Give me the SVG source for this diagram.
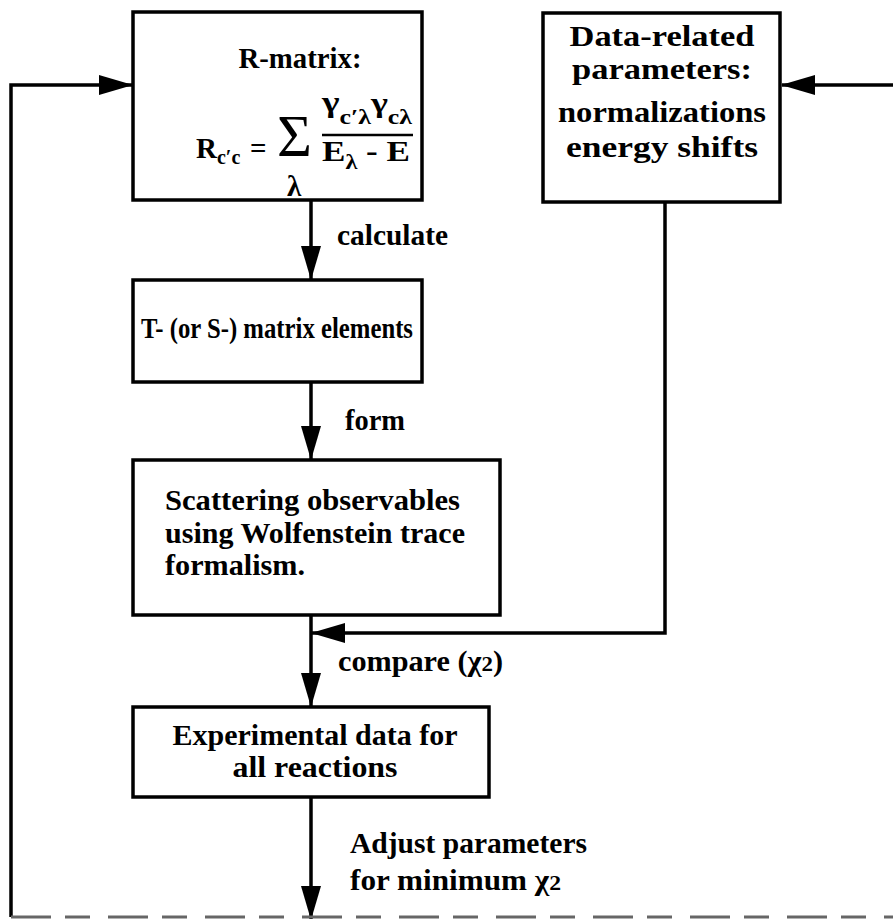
<svg xmlns="http://www.w3.org/2000/svg" width="893" height="919" viewBox="0 0 893 919">
<style>
.box{fill:#fff;stroke:#000;stroke-width:3.5}
.ln{fill:none;stroke:#000;stroke-width:3.5}
.t{font-family:"Liberation Serif","Times New Roman",serif;font-weight:bold;font-size:29px;fill:#000}
.c{text-anchor:middle}
</style>
<defs>
<marker id="ah" markerUnits="userSpaceOnUse" markerWidth="34" markerHeight="22" viewBox="0 0 34 22" refX="33" refY="11" orient="auto">
<path d="M0,1 L34,11 L0,21 Z" fill="#000"/>
</marker>
</defs>
<rect width="893" height="919" fill="#fff"/>
<g id="connectors">
<path class="ln" d="M11,917 L11,85 L132,85" marker-end="url(#ah)"/>
<path class="ln" d="M893,85 L782,85" marker-end="url(#ah)"/>
<path class="ln" d="M311,200 L311,279" marker-end="url(#ah)"/>
<path class="ln" d="M311,382 L311,459" marker-end="url(#ah)"/>
<path class="ln" d="M665,202 L665,633 L312,633" marker-end="url(#ah)"/>
<path class="ln" d="M311,615 L311,706" marker-end="url(#ah)"/>
<path class="ln" d="M311,797 L311,919" marker-end="url(#ah)"/>
<path d="M11,917 L893,917" fill="none" stroke="#666" stroke-width="3" stroke-dasharray="40 14 25 18"/>
<text class="t" x="337" y="245" textLength="111" lengthAdjust="spacingAndGlyphs">calculate</text>
<text class="t" x="345" y="430" textLength="60" lengthAdjust="spacingAndGlyphs">form</text>
<text class="t" x="338" y="671" textLength="165" lengthAdjust="spacingAndGlyphs">compare (χ<tspan font-size="22">2</tspan>)</text>
<text class="t" x="350" y="853" textLength="237" lengthAdjust="spacingAndGlyphs">Adjust parameters</text>
<text class="t" x="350" y="890" textLength="211" lengthAdjust="spacingAndGlyphs">for minimum χ<tspan font-size="22">2</tspan></text>
</g>
<g id="rmatrix">
<rect class="box" x="133" y="12" width="289" height="188"/>
<text class="t c" x="300" y="68" textLength="123" lengthAdjust="spacingAndGlyphs">R-matrix:</text>
<text class="t" x="196" y="158" font-size="32">R<tspan font-size="20" dy="6">c′c</tspan></text>
<text class="t" x="250" y="158" font-size="30">=</text>
<text x="277" y="156" font-family="Liberation Serif, serif" font-size="60">Σ</text>
<text class="t c" x="294" y="196" font-size="20">λ</text>
<text class="t" x="322" y="112" font-size="28" textLength="90" lengthAdjust="spacingAndGlyphs">γ<tspan font-size="20" dy="12">c′λ</tspan><tspan dy="-12" font-size="28">γ</tspan><tspan font-size="20" dy="12">cλ</tspan></text>
<line x1="322" y1="135" x2="413" y2="135" stroke="#000" stroke-width="2.5"/>
<text class="t" x="322" y="161" font-size="30" textLength="88" lengthAdjust="spacingAndGlyphs">E<tspan font-size="20" dy="8">λ</tspan><tspan dy="-8"> - E</tspan></text>
</g>
<g id="data">
<rect class="box" x="543" y="13" width="237" height="189"/>
<text class="t c" x="662" y="46" font-size="26" textLength="185" lengthAdjust="spacingAndGlyphs">Data-related</text>
<text class="t c" x="662" y="79" font-size="26" textLength="180" lengthAdjust="spacingAndGlyphs">parameters:</text>
<text class="t c" x="662" y="122" textLength="208" lengthAdjust="spacingAndGlyphs">normalizations</text>
<text class="t c" x="662" y="157" textLength="192" lengthAdjust="spacingAndGlyphs">energy shifts</text>
</g>
<g id="tmatrix">
<rect class="box" x="133" y="280" width="289" height="102"/>
<text class="t c" x="277" y="338" textLength="272" lengthAdjust="spacingAndGlyphs">T- (or S-) matrix elements</text>
</g>
<g id="scattering">
<rect class="box" x="133" y="460" width="367" height="155"/>
<text class="t" x="165" y="510" textLength="295" lengthAdjust="spacingAndGlyphs">Scattering observables</text>
<text class="t" x="165" y="543" textLength="300" lengthAdjust="spacingAndGlyphs">using Wolfenstein trace</text>
<text class="t" x="165" y="575" textLength="140" lengthAdjust="spacingAndGlyphs">formalism.</text>
</g>
<g id="experimental">
<rect class="box" x="133" y="707" width="356" height="90"/>
<text class="t c" x="315" y="745" textLength="285" lengthAdjust="spacingAndGlyphs">Experimental data for</text>
<text class="t c" x="315" y="777" textLength="165" lengthAdjust="spacingAndGlyphs">all reactions</text>
</g>
</svg>
